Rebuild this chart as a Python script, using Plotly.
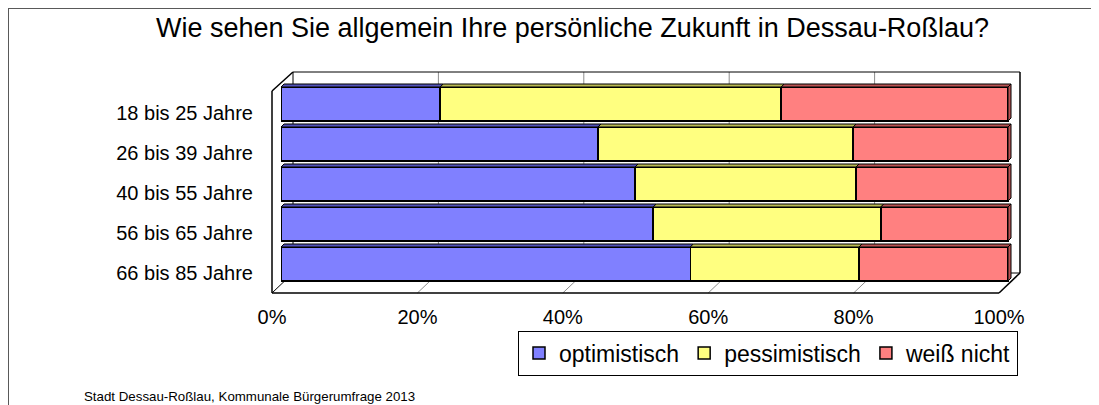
import plotly.graph_objects as go

# ---------------- data ----------------
title_text = "Wie sehen Sie allgemein Ihre persönliche Zukunft in Dessau-Roßlau?"
source_text = "Stadt Dessau-Roßlau, Kommunale Bürgerumfrage 2013"
age_groups = ["18 bis 25 Jahre", "26 bis 39 Jahre", "40 bis 55 Jahre", "56 bis 65 Jahre", "66 bis 85 Jahre"]
series_names = ["optimistisch", "pessimistisch", "weiß nicht"]
optimistisch = [21.9, 43.6, 48.7, 51.2, 56.3]
pessimistisch = [46.9, 35.1, 30.4, 31.3, 23.2]
weiss_nicht = [31.2, 21.3, 20.9, 17.5, 20.5]
x_tick_vals = [0, 20, 40, 60, 80, 100]
x_tick_text = ["0%", "20%", "40%", "60%", "80%", "100%"]

colors = ["#8080FF", "#FFFF80", "#FF8080"]
top_colors = ["#5252B8", "#B8B852", "#B85252"]
FONT = "Liberation Sans, Arial, sans-serif"

# ---------------- geometry (page pixels) ----------------
BODY = 8   # default page body margin
PL, PR, PT, PB = 272, 1020, 72, 293
W, H = PR - PL, PB - PT
def px(x):
    return (x - PL) / W
def py(y):
    return (PB - y) / H

DEPTH = 21        # box depth offset in px
BAR_X0 = 281      # front face of bars, 0 %
BAR_W = 727       # px for 100 %
UNIT = 40         # px per category
BAR_WIDTH = 0.85
D = 3             # bar depth in px
dx = D / (BAR_W / 100.0)
dy = D / UNIT

rows = list(range(len(age_groups)))
data = [optimistisch, pessimistisch, weiss_nicht]

fig = go.Figure()

for name, vals, col in zip(series_names, data, colors):
    fig.add_trace(go.Bar(
        x=vals, y=rows, orientation="h", name=name, width=BAR_WIDTH,
        marker=dict(color=col, line=dict(color="black", width=1.5)),
        xaxis="x", yaxis="y", hoverinfo="x+name"))

# top faces of bar segments (3D effect)
cum = [0.0] * len(rows)
for j, (vals, tcol) in enumerate(zip(data, top_colors)):
    xs, ys = [], []
    for i in rows:
        s = cum[i]
        e = cum[i] + vals[i]
        yt = i - BAR_WIDTH / 2
        xs += [s, e, e + dx, s + dx, s, None]
        ys += [yt, yt, yt - dy, yt - dy, yt, None]
        cum[i] = e
    fig.add_trace(go.Scatter(x=xs, y=ys, fill="toself", fillcolor=tcol, mode="lines",
                             line=dict(color="black", width=1), showlegend=False,
                             hoverinfo="skip", xaxis="x", yaxis="y"))
# right side faces
xs, ys = [], []
for i in rows:
    e = cum[i]
    yt = i - BAR_WIDTH / 2
    yb = i + BAR_WIDTH / 2
    xs += [e, e, e + dx, e + dx, e, None]
    ys += [yt, yb, yb - dy, yt - dy, yt, None]
fig.add_trace(go.Scatter(x=xs, y=ys, fill="toself", fillcolor=top_colors[2], mode="lines",
                         line=dict(color="black", width=1), showlegend=False,
                         hoverinfo="skip", xaxis="x", yaxis="y"))

# dummy trace for label axes
fig.add_trace(go.Scatter(x=[None], y=[None], xaxis="x2", yaxis="y2",
                         showlegend=False, hoverinfo="skip"))

# ---------------- 3D box shapes ----------------
shapes = []
def line(x0, y0, x1, y1, color="black", width=1.5):
    shapes.append(dict(type="line", xref="paper", yref="paper",
                       x0=px(x0), y0=py(y0), x1=px(x1), y1=py(y1),
                       line=dict(color=color, width=width), layer="below"))

FX0, FX1 = PL, PL + BAR_W            # front plane x
FYT, FYB = PT + 19, PB               # front plane y
BX0, BX1 = FX0 + DEPTH, FX1 + DEPTH  # back plane x
BYT, BYB = PT, PB - 20               # back plane y

for v in x_tick_vals[1:-1]:
    off = v / 100.0 * BAR_W
    line(BX0 + off, BYT, BX0 + off, BYB, color="#8C8C8C", width=1)
    line(FX0 + off, FYB, BX0 + off, BYB, color="#8C8C8C", width=1)

line(FX0, FYT, FX0, FYB)          # left wall front edge
line(FX0, FYT, BX0, BYT)          # left wall top
line(BX0, BYT, BX0, BYB, width=1) # back-left vertical
line(BX0, BYT, BX1, BYT, width=1) # back top
line(BX1, BYT, BX1, BYB)          # back right
line(BX0, BYB, BX1, BYB, width=1) # back bottom
line(FX0, FYB, FX1, FYB)          # floor front
line(FX0, FYB, BX0, BYB, width=1) # floor left
line(FX1, FYB, BX1, BYB)          # floor right

# outer chart border
shapes.append(dict(type="rect", xref="paper", yref="paper",
                   x0=px(7), y0=py(7), x1=px(1130), y1=py(440),
                   line=dict(color="#595959", width=4), fillcolor="rgba(0,0,0,0)", layer="below"))

fig.update_layout(
    width=1099 - BODY, height=405 - BODY, autosize=False,
    margin=dict(l=PL - BODY, r=1099 - PR, t=PT - BODY, b=405 - PB, pad=0),
    paper_bgcolor="white", plot_bgcolor="rgba(0,0,0,0)",
    font=dict(family=FONT, size=20, color="black"),
    barmode="stack",
    showlegend=True,
    legend=dict(orientation="h", x=px(1018), xanchor="right", y=py(353), yanchor="middle",
                bordercolor="black", borderwidth=1, bgcolor="white",
                font=dict(family=FONT, size=23), traceorder="normal",
                itemwidth=30, tracegroupgap=0),
    xaxis=dict(domain=[px(BAR_X0), 1.0], range=[0, 100 * (PR - BAR_X0) / BAR_W],
               visible=False, anchor="y"),
    yaxis=dict(domain=[py(284), 1.0], range=[4.5, -0.5 - (84 - PT) / UNIT],
               visible=False, anchor="x"),
    xaxis2=dict(domain=[0, px(FX1)], range=[0, 100], anchor="y2",
                tickvals=x_tick_vals, ticktext=x_tick_text, ticks="outside", ticklen=6,
                tickcolor="rgba(0,0,0,0)", showgrid=False, zeroline=False, showline=False,
                tickfont=dict(family=FONT, size=20), fixedrange=True),
    yaxis2=dict(domain=[0, py(93)], range=[4.5, -0.5], anchor="x2",
                tickvals=rows, ticktext=age_groups, ticks="outside", ticklen=14,
                tickcolor="rgba(0,0,0,0)", showgrid=False, zeroline=False, showline=False,
                tickfont=dict(family=FONT, size=20), fixedrange=True),
    shapes=shapes,
    annotations=[
        dict(text=title_text, xref="paper", yref="paper", x=px(572), y=py(28),
             xanchor="center", yanchor="middle", showarrow=False,
             font=dict(family=FONT, size=27, color="black")),
        dict(text=source_text, xref="paper", yref="paper", x=px(82), y=py(396),
             xanchor="left", yanchor="middle", showarrow=False,
             font=dict(family=FONT, size=13.3, color="black")),
    ],
)

fig.write_html("out.html")
